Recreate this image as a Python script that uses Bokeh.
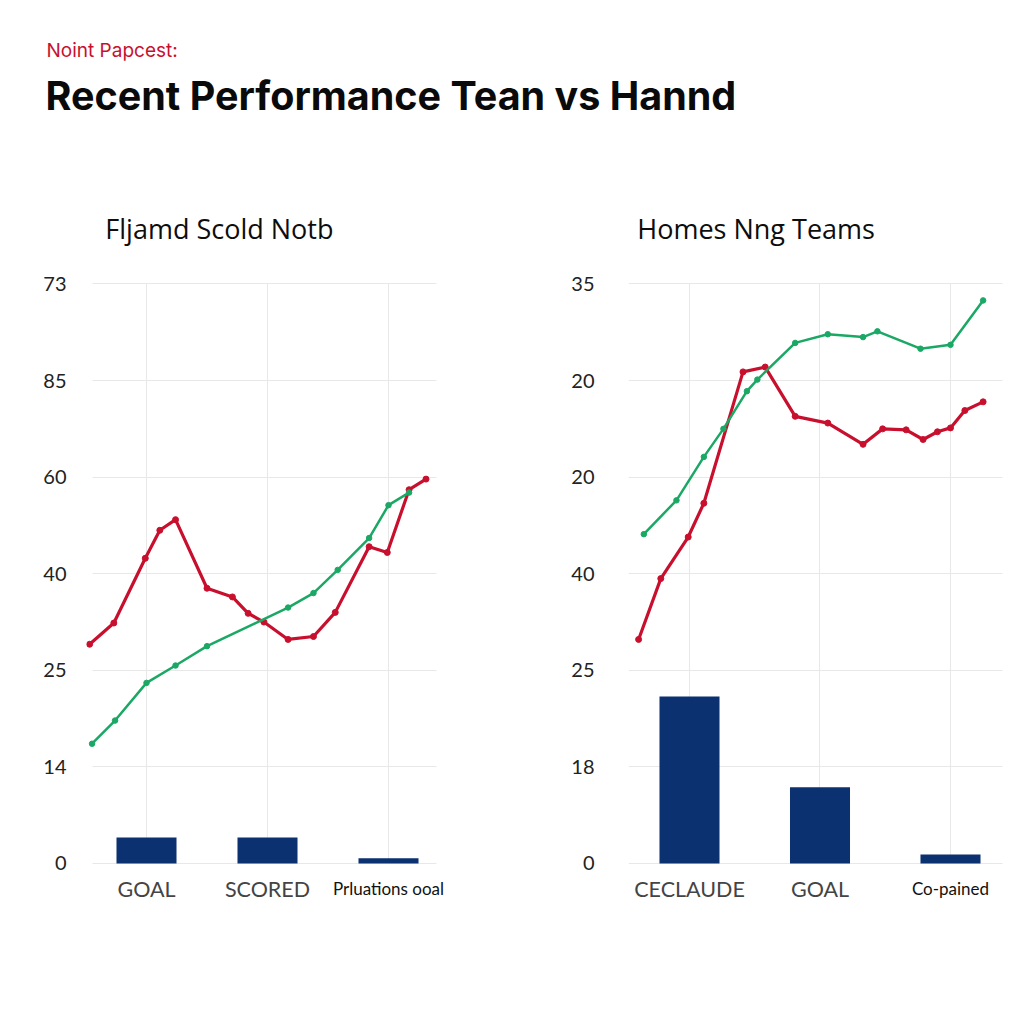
from bokeh.plotting import figure
from bokeh.layouts import column, row
from bokeh.models import Range1d, FixedTicker, Label
from bokeh.embed import file_html
from bokeh.resources import INLINE
from bokeh.core.validation import silence
from bokeh.core.validation.warnings import MISSING_RENDERERS

silence(MISSING_RENDERERS, True)

# ---------------- data ----------------
header_kicker = "Noint Papcest:"
header_title = "Recent Performance Tean  vs Hannd"

y_tick_positions = [0, 10, 20, 30, 40, 50, 60]

left_title = "Fljamd Scold Notb"
left_y_labels = ["0", "14", "25", "40", "60", "85", "73"]
left_categories = ["GOAL", "SCORED", "Prluations ooal"]
left_cat_pos = [1, 2, 3]
left_bars = [2.7, 2.7, 0.55]
left_red_x = [0.53, 0.73, 0.99, 1.11, 1.24, 1.50, 1.71, 1.84, 1.97, 2.17, 2.38, 2.56, 2.84, 2.99, 3.17, 3.31]
left_red_y = [22.7, 24.9, 31.6, 34.5, 35.6, 28.5, 27.6, 25.9, 25.0, 23.2, 23.5, 26.0, 32.8, 32.2, 38.7, 39.8]
left_green_x = [0.55, 0.74, 1.00, 1.24, 1.50, 2.17, 2.38, 2.58, 2.84, 3.00, 3.17]
left_green_y = [12.4, 14.8, 18.7, 20.5, 22.5, 26.5, 28.0, 30.4, 33.7, 37.1, 38.4]

right_title = "Homes Nng Teams"
right_y_labels = ["0", "18", "25", "40", "20", "20", "35"]
right_categories = ["CECLAUDE", "GOAL", "Co-pained"]
right_cat_pos = [1, 2, 3]
right_bars = [17.3, 7.9, 0.93]
right_red_x = [0.61, 0.78, 0.99, 1.11, 1.41, 1.58, 1.81, 2.06, 2.33, 2.48, 2.66, 2.79, 2.90, 3.00, 3.11, 3.25]
right_red_y = [23.2, 29.5, 33.8, 37.3, 50.9, 51.4, 46.3, 45.6, 43.4, 45.0, 44.9, 43.9, 44.7, 45.1, 46.9, 47.8]
right_green_x = [0.65, 0.90, 1.11, 1.26, 1.44, 1.52, 1.81, 2.06, 2.33, 2.44, 2.77, 3.00, 3.25]
right_green_y = [34.1, 37.6, 42.1, 45.0, 48.9, 50.1, 53.9, 54.8, 54.5, 55.1, 53.3, 53.7, 58.3]

# ---------------- style ----------------
RED = "#c8102e"
GREEN = "#1aa864"
NAVY = "#0b3170"
GRID = "#e8e8e8"

# ---------------- header ----------------
header = figure(width=1016, height=150, x_range=Range1d(0, 1016), y_range=Range1d(0, 150),
                x_axis_location=None, y_axis_location=None, output_backend="svg",
                toolbar_location=None, min_border=0)
header.grid.visible = False
header.outline_line_color = None
header.add_layout(Label(x=46, y=100, text=header_kicker, text_font="Inter", text_font_size="19px",
                        text_color=RED, text_baseline="alphabetic"))
header.add_layout(Label(x=45, y=55, text=header_title, text_font="Inter", text_font_size="39.5px",
                        text_font_style="bold", text_color="#0a0a0a", text_baseline="alphabetic"))


def set_cross(grid, bounds):
    try:
        grid.cross_bounds = bounds
    except AttributeError:
        pass


def make_panel(width, border_left, border_right, x_start, x_end, grid_bounds, standoff, title, title_x,
               y_labels, cats, cat_pos, bars, bar_width, rx, ry, gx, gy):
    p = figure(width=width, height=866, x_range=Range1d(x_start, x_end), y_range=Range1d(-5.384, 68.645),
               x_axis_location=None, output_backend="svg", toolbar_location=None,
               min_border_left=border_left, min_border_right=border_right,
               min_border_top=50, min_border_bottom=101)
    p.outline_line_color = None
    p.background_fill_color = "white"
    p.xgrid.ticker = FixedTicker(ticks=cat_pos)
    set_cross(p.xgrid[0], (y_tick_positions[0], y_tick_positions[-1]))
    p.ygrid.ticker = FixedTicker(ticks=y_tick_positions)
    set_cross(p.ygrid[0], grid_bounds)
    p.grid.grid_line_color = GRID
    p.grid.grid_line_width = 1
    ax = p.yaxis[0]
    ax.ticker = FixedTicker(ticks=y_tick_positions)
    ax.major_label_overrides = {t: lab for t, lab in zip(y_tick_positions, y_labels)}
    ax.axis_line_color = None
    ax.major_tick_line_color = None
    ax.minor_tick_line_color = None
    ax.major_tick_out = 0
    ax.major_tick_in = 0
    ax.major_label_standoff = standoff
    ax.major_label_text_font = "Lato"
    ax.major_label_text_font_size = "20px"
    ax.major_label_text_color = "#222222"

    p.vbar(x=cat_pos, top=bars, bottom=0, width=bar_width, fill_color=NAVY, line_color=None)

    p.line(rx, ry, line_color=RED, line_width=3.2, line_join="round")
    p.scatter(rx, ry, size=6, fill_color=RED, line_color=RED)
    p.line(gx, gy, line_color=GREEN, line_width=2.5, line_join="round")
    p.scatter(gx, gy, size=5.5, fill_color=GREEN, line_color=GREEN)

    p.add_layout(Label(x=title_x, y=65.75, text=title, text_font="Open Sans", text_font_size="27px",
                       text_color="#0d0d0d", text_baseline="alphabetic"))
    for i, (c, xp) in enumerate(zip(cats, cat_pos)):
        small = i == len(cats) - 1
        p.add_layout(Label(x=xp, y=-2.6, text=c, text_font="Lato",
                           text_font_size="17px" if small else "21.5px",
                           text_color="#111111" if small else "#444444",
                           text_align="center", text_baseline="alphabetic"))
    return p


left = make_panel(520, 86, 50, 0.5041, 3.6777, (0.55, 3.40), 20, left_title, 0.66,
                  left_y_labels, left_categories, left_cat_pos, left_bars, 0.496,
                  left_red_x, left_red_y, left_green_x, left_green_y)
right = make_panel(496, 108, 6, 0.5326, 3.4598, (0.5326, 3.398), 34, right_title, 0.60,
                   right_y_labels, right_categories, right_cat_pos, right_bars, 0.46,
                   right_red_x, right_red_y, right_green_x, right_green_y)

layout = column(header, row(left, right))
open("out.html", "w").write(file_html(layout, INLINE))
